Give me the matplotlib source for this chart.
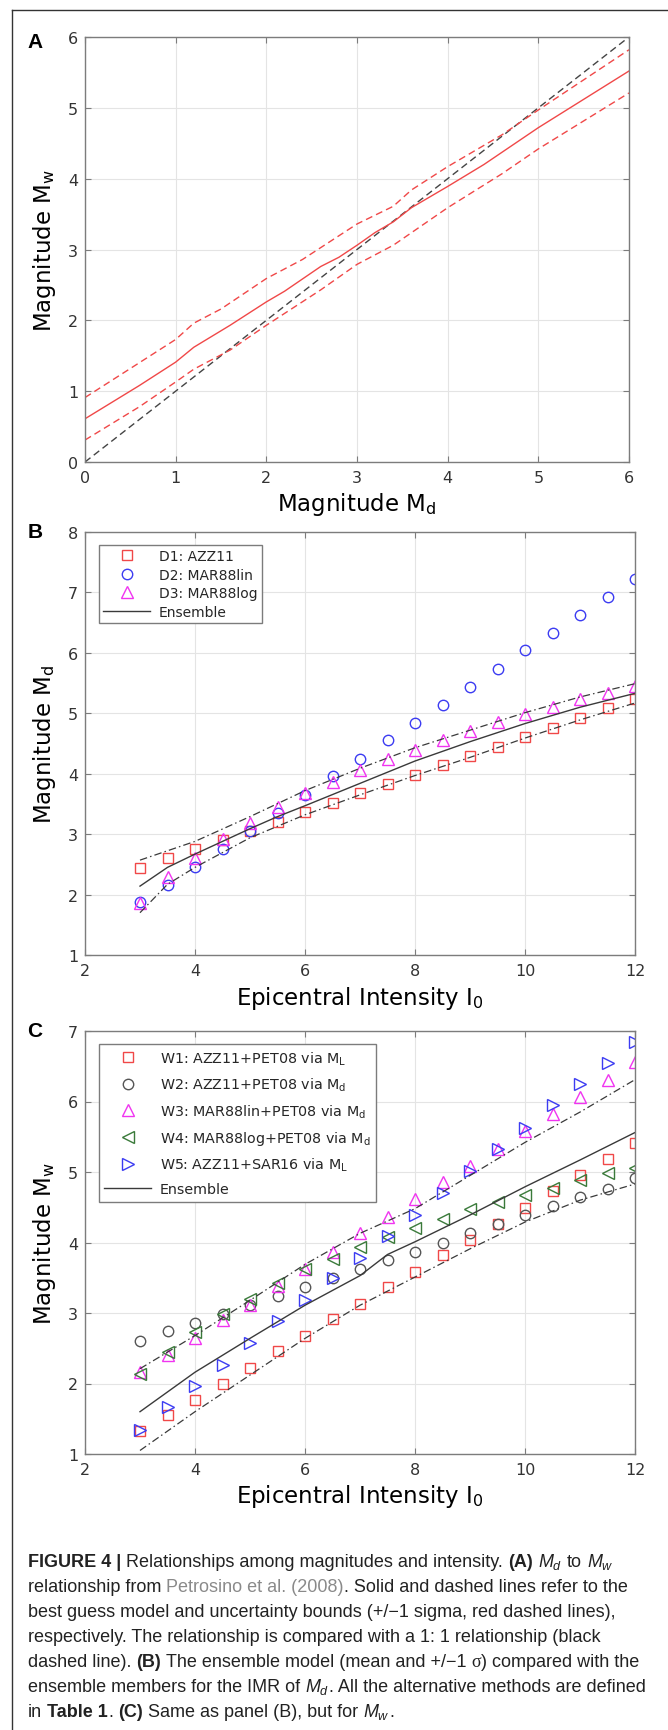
import matplotlib
matplotlib.use('Agg')
import matplotlib.pyplot as plt
from matplotlib.lines import Line2D

# ---------------- data ----------------
# Panel A: Md -> Mw (Petrosino et al. 2008)
a_mean_x = [0, 0.6, 1.0, 1.2, 1.6, 2.0, 2.2, 2.6, 2.8, 3.0, 3.2, 3.4, 3.6, 4.0, 4.4, 5.0, 6.0]
a_mean_y = [0.61, 1.08, 1.41, 1.62, 1.93, 2.26, 2.41, 2.76, 2.89, 3.06, 3.24, 3.39, 3.59, 3.89, 4.20, 4.72, 5.52]
a_up_x = [0, 1.0, 1.2, 1.5, 2.0, 2.4, 3.0, 3.4, 3.6, 4.0, 4.6, 5.0, 6.0]
a_up_y = [0.91, 1.73, 1.96, 2.16, 2.59, 2.86, 3.36, 3.61, 3.84, 4.17, 4.62, 4.97, 5.82]
a_lo_x = [0, 0.6, 1.0, 1.2, 1.6, 2.0, 2.6, 3.0, 3.4, 4.0, 4.6, 5.0, 6.0]
a_lo_y = [0.31, 0.78, 1.13, 1.31, 1.58, 1.93, 2.43, 2.79, 3.06, 3.59, 4.07, 4.42, 5.21]
one_x = [0, 6]
one_y = [0, 6]

# Panel B / C: epicentral intensity
intensity = [3, 3.5, 4, 4.5, 5, 5.5, 6, 6.5, 7, 7.5, 8, 8.5, 9, 9.5, 10, 10.5, 11, 11.5, 12]
d1_azz11 = [2.44, 2.60, 2.75, 2.91, 3.06, 3.20, 3.36, 3.52, 3.68, 3.83, 3.98, 4.14, 4.30, 4.45, 4.61, 4.76, 4.92, 5.08, 5.23]
d2_mar88lin = [1.87, 2.16, 2.45, 2.75, 3.06, 3.35, 3.65, 3.96, 4.25, 4.55, 4.84, 5.14, 5.44, 5.73, 6.04, 6.33, 6.63, 6.93, 7.22]
d3_mar88log = [1.86, 2.29, 2.60, 2.92, 3.19, 3.45, 3.68, 3.87, 4.06, 4.24, 4.40, 4.56, 4.70, 4.85, 4.99, 5.11, 5.23, 5.34, 5.45]
ens_b_x = [3, 3.5, 4, 4.5, 5, 5.5, 6, 7, 8, 9, 10, 11, 12]
ens_b_mean = [2.14, 2.45, 2.67, 2.88, 3.09, 3.29, 3.47, 3.84, 4.21, 4.53, 4.83, 5.10, 5.33]
ens_b_upx = [3, 4, 5, 6, 7, 8, 9, 10, 11, 12]
ens_b_up = [2.57, 2.88, 3.29, 3.72, 4.09, 4.43, 4.72, 5.01, 5.27, 5.49]
ens_b_lox = [3, 3.5, 4, 5, 6, 7, 8, 9, 10, 11, 12]
ens_b_lo = [1.70, 2.17, 2.45, 2.94, 3.32, 3.65, 3.97, 4.27, 4.59, 4.89, 5.17]

w1 = [1.33, 1.56, 1.76, 2.00, 2.22, 2.46, 2.68, 2.91, 3.13, 3.37, 3.58, 3.82, 4.04, 4.26, 4.49, 4.73, 4.96, 5.19, 5.41]
w2 = [2.60, 2.74, 2.86, 2.99, 3.11, 3.24, 3.37, 3.50, 3.62, 3.75, 3.87, 4.00, 4.13, 4.26, 4.39, 4.52, 4.65, 4.76, 4.91]
w3 = [2.16, 2.40, 2.64, 2.90, 3.12, 3.39, 3.63, 3.86, 4.13, 4.36, 4.61, 4.86, 5.09, 5.33, 5.58, 5.82, 6.07, 6.30, 6.56]
w4 = [2.13, 2.45, 2.73, 2.99, 3.20, 3.42, 3.62, 3.77, 3.94, 4.08, 4.21, 4.34, 4.47, 4.57, 4.68, 4.77, 4.88, 4.98, 5.06]
w5 = [1.34, 1.66, 1.96, 2.26, 2.57, 2.88, 3.18, 3.49, 3.78, 4.09, 4.39, 4.70, 5.02, 5.32, 5.62, 5.95, 6.25, 6.54, 6.85]
ens_c_x = [3, 3.5, 4, 5, 6, 7, 7.5, 8, 9, 10, 11, 12]
ens_c_mean = [1.60, 1.88, 2.16, 2.64, 3.11, 3.53, 3.83, 4.01, 4.39, 4.79, 5.17, 5.56]
ens_c_ux = [3, 4, 5, 6, 7, 8, 9, 10, 11, 12]
ens_c_up = [2.21, 2.68, 3.18, 3.69, 4.13, 4.48, 4.95, 5.42, 5.85, 6.31]
ens_c_lx = [3, 4, 5, 6, 7, 8, 9, 10, 11, 12]
ens_c_lo = [1.05, 1.60, 2.12, 2.64, 3.11, 3.51, 3.91, 4.29, 4.60, 4.83]

labels_b = ['D1: AZZ11', 'D2: MAR88lin', 'D3: MAR88log', 'Ensemble']
labels_c = [r'W1: AZZ11+PET08 via M$_{\mathsf{L}}$',
            r'W2: AZZ11+PET08 via M$_{\mathsf{d}}$',
            r'W3: MAR88lin+PET08 via M$_{\mathsf{d}}$',
            r'W4: MAR88log+PET08 via M$_{\mathsf{d}}$',
            r'W5: AZZ11+SAR16 via M$_{\mathsf{L}}$',
            'Ensemble']

# ---------------- style ----------------
plt.rcParams['font.family'] = ['DejaVu Sans']
plt.rcParams['mathtext.fontset'] = 'custom'
plt.rcParams['mathtext.rm'] = 'Liberation Sans'
plt.rcParams['mathtext.it'] = 'Liberation Sans:italic'
plt.rcParams['mathtext.bf'] = 'Liberation Sans:bold'
plt.rcParams['mathtext.sf'] = 'DejaVu Sans'

W, H = 668, 1731
fig = plt.figure(figsize=(W / 100, H / 100), dpi=100)

SPINE = '#7c7c7c'
TXT = '#262626'
RED = '#f04848'
BLUE = '#3c3cf2'
MAG = '#f034f0'
GRAY = '#555555'
GREEN = '#3a7a3a'
ENS = '#3a3a3a'


def add_axes(l, r, t, b):
    return fig.add_axes([l / W, 1 - b / H, (r - l) / W, (b - t) / H])


def style(ax, xlabel, ylabel, axh, axw):
    ax.grid(True, color='#e4e4e4', lw=0.8)
    ax.set_axisbelow(True)
    for s in ax.spines.values():
        s.set_color(SPINE)
        s.set_linewidth(1.0)
    ax.tick_params(direction='in', length=4, width=0.8, color=SPINE, top=True, right=True,
                   labelsize=11.5, labelcolor='#333333')
    ax.tick_params(axis='x', pad=6)
    ax.tick_params(axis='y', pad=5)
    ax.set_xlabel(xlabel, fontsize=16.5, color='black')
    ax.set_ylabel(ylabel, fontsize=16.5, color='black')
    ax.xaxis.label.set_va('center')
    ax.yaxis.label.set_va('center')
    ax.xaxis.set_label_coords(0.5, -42 / axh)
    ax.yaxis.set_label_coords(-40 / axw, 0.5)


dash = dict(dashes=(5, 3))
dashdot = dict(dashes=(6, 2.5, 1.2, 2.5))

# Panel A
axA = add_axes(85, 629, 38, 463)
axA.plot(one_x, one_y, color='#444444', lw=1.0, **dash)
axA.plot(a_up_x, a_up_y, color=RED, lw=1.0, **dash)
axA.plot(a_lo_x, a_lo_y, color=RED, lw=1.0, **dash)
axA.plot(a_mean_x, a_mean_y, color=RED, lw=1.0)
axA.set_xlim(0, 6)
axA.set_ylim(0, 6)
axA.set_xticks(range(0, 7))
axA.set_yticks(range(0, 7))
style(axA, r'Magnitude M$_{\mathsf{d}}$', r'Magnitude M$_{\mathsf{w}}$', 425, 544)

# Panel B
axB = add_axes(85, 635, 533, 956)
mk = dict(ls='none', mfc='none', mew=1.0)
axB.plot(intensity, d1_azz11, marker='s', ms=6.5, mec=RED, label=labels_b[0], **mk)
axB.plot(intensity, d2_mar88lin, marker='o', ms=7.5, mec=BLUE, label=labels_b[1], **mk)
axB.plot(intensity, d3_mar88log, marker='^', ms=8, mec=MAG, label=labels_b[2], **mk)
axB.plot(ens_b_x, ens_b_mean, color=ENS, lw=1.0, label=labels_b[3])
axB.plot(ens_b_upx, ens_b_up, color=ENS, lw=0.9, **dashdot)
axB.plot(ens_b_lox, ens_b_lo, color=ENS, lw=0.9, **dashdot)
axB.set_xlim(2, 12)
axB.set_ylim(1, 8)
axB.set_xticks(range(2, 13, 2))
axB.set_yticks(range(1, 9))
style(axB, r'Epicentral Intensity I$_{\mathsf{0}}$', r'Magnitude M$_{\mathsf{d}}$', 423, 550)
legB = axB.legend(loc='upper left', bbox_to_anchor=(0.0255, 0.969), borderaxespad=0,
                  fontsize=10, frameon=True, fancybox=False, edgecolor=SPINE, framealpha=1,
                  handlelength=3.4, handletextpad=0.6, labelspacing=0.32, borderpad=0.3)
legB.get_frame().set_linewidth(1.0)
for t in legB.get_texts():
    t.set_color(TXT)

# Panel C
axC = add_axes(85, 635, 1032, 1455)
axC.plot(intensity, w1, marker='s', ms=6.5, mec=RED, label=labels_c[0], **mk)
axC.plot(intensity, w2, marker='o', ms=7.5, mec=GRAY, label=labels_c[1], **mk)
axC.plot(intensity, w3, marker='^', ms=8, mec=MAG, label=labels_c[2], **mk)
axC.plot(intensity, w4, marker='<', ms=8, mec=GREEN, label=labels_c[3], **mk)
axC.plot(intensity, w5, marker='>', ms=8, mec=BLUE, label=labels_c[4], **mk)
axC.plot(ens_c_x, ens_c_mean, color=ENS, lw=1.0, label=labels_c[5])
axC.plot(ens_c_ux, ens_c_up, color=ENS, lw=0.9, **dashdot)
axC.plot(ens_c_lx, ens_c_lo, color=ENS, lw=0.9, **dashdot)
axC.set_xlim(2, 12)
axC.set_ylim(1, 7)
axC.set_xticks(range(2, 13, 2))
axC.set_yticks(range(1, 8))
style(axC, r'Epicentral Intensity I$_{\mathsf{0}}$', r'Magnitude M$_{\mathsf{w}}$', 423, 550)
legC = axC.legend(loc='upper left', bbox_to_anchor=(0.0255, 0.969), borderaxespad=0,
                  fontsize=10.3, frameon=True, fancybox=False, edgecolor=SPINE, framealpha=1,
                  handlelength=3.3, handletextpad=0.6, labelspacing=0.64, borderpad=0.35)
legC.get_frame().set_linewidth(1.0)
for t in legC.get_texts():
    t.set_color(TXT)

# panel letters
for letter, yc in (('A', 42), ('B', 533), ('C', 1032)):
    fig.text(35 / W, 1 - yc / H, letter, fontsize=15, fontweight='bold',
             family='Liberation Sans', ha='center', va='center', color='black')

# outer frame (top and left)
fig.add_artist(Line2D([12 / W, 1], [1 - 11 / H, 1 - 11 / H], transform=fig.transFigure,
                      color='#333333', lw=1.0))
fig.add_artist(Line2D([12 / W, 12 / W], [0, 1 - 11 / H], transform=fig.transFigure,
                      color='#333333', lw=1.0))

# ---------------- caption (rich text) ----------------
renderer = fig.canvas.get_renderer()
base = dict(family='Liberation Sans', color='#222222')
bold = dict(base, fontweight='bold')
link = dict(base, color='#8a8a8a')
serif = dict(family='Liberation Serif', color='#222222')


def measure(txt, kw, size):
    t = fig.text(0, 0, txt, fontsize=size, **kw)
    w = t.get_window_extent(renderer).width
    t.remove()
    return w


def rich_line(x0, ybase, segs, size, draw=True):
    x = x0
    for txt, kw in segs:
        sw = measure('x x', kw, size) - measure('xx', kw, size)
        core = txt.strip(' ')
        lead = len(txt) - len(txt.lstrip(' '))
        trail = len(txt) - len(txt.rstrip(' '))
        x += lead * sw
        if core:
            if draw:
                t = fig.text(x / W, 1 - ybase / H, core, fontsize=size, va='baseline', ha='left', **kw)
                x += t.get_window_extent(renderer).width
            else:
                x += measure(core, kw, size)
        x += trail * sw
    return x


lines = [
    [('FIGURE 4 | ', bold), ('Relationships among magnitudes and intensity. ', base),
     ('(A) ', bold), (r'$M_d$', base), (' to ', base), (r'$M_w$', base)],
    [('relationship from ', base), ('Petrosino et al. (2008)', link),
     ('. Solid and dashed lines refer to the', base)],
    [('best guess model and uncertainty bounds (+/\u22121 sigma, red dashed lines),', base)],
    [('respectively. The relationship is compared with a 1: 1 relationship (black', base)],
    [('dashed line). ', base), ('(B) ', bold), ('The ensemble model (mean and +/\u22121 ', base),
     ('\u03c3', serif), (') compared with the', base)],
    [('ensemble members for the IMR of ', base), (r'$M_d$', base),
     ('. All the alternative methods are defined', base)],
    [('in ', base), ('Table 1', bold), ('. ', base), ('(C) ', bold),
     ('Same as panel (B), but for ', base), (r'$M_w$', base), ('.', base)],
]
# fit the caption font so that line 2 spans the width seen in the reference
X0 = 28
s0 = 11.0
w0 = rich_line(X0, 0, lines[1], s0, draw=False) - X0
CAP = s0 * (596 / w0)
y0 = 1567
for i, segs in enumerate(lines):
    rich_line(X0, y0 + i * 25, segs, CAP)

fig.savefig('out.png', dpi=100)
